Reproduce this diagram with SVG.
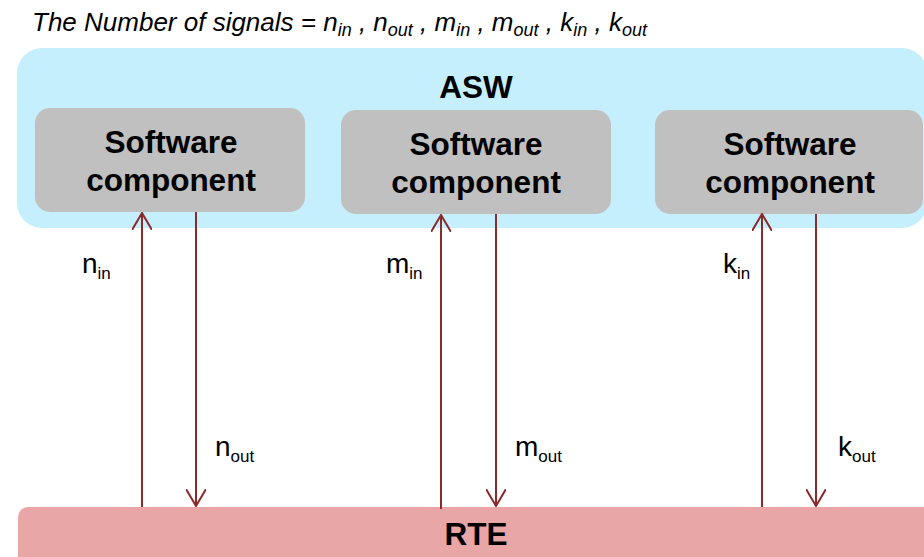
<svg xmlns="http://www.w3.org/2000/svg" width="924" height="557" viewBox="0 0 924 557">
  <style>
    .title { font-family: "Liberation Sans", Arial, sans-serif; font-style: italic; font-size: 26px; fill: #000; }
    .sub { font-size: 18px; }
    .box-label { font-family: "Liberation Sans", Arial, sans-serif; font-weight: bold; font-size: 31.5px; fill: #000; text-anchor: middle; }
    .swc { fill: #C0C0C0; }
    .sig { font-family: "Liberation Sans", Arial, sans-serif; font-size: 28px; fill: #000; }
    .sig-sub { font-size: 17px; }
    .wire { stroke: #8B2A2A; stroke-width: 2; fill: none; }
  </style>
  <defs>
    <!-- open V arrowhead, drawn along +x so orient="auto" follows the line -->
    <marker id="open-arrow" viewBox="0 0 18 20" refX="17" refY="10" markerWidth="18" markerHeight="20" markerUnits="userSpaceOnUse" orient="auto">
      <path d="M0,0 L17,10 L0,20" fill="none" stroke="#8B2A2A" stroke-width="2"/>
    </marker>
  </defs>

  <rect width="924" height="557" fill="#FFFFFF"/>

  <!-- heading -->
  <text class="title" x="32" y="31">The Number of signals = n<tspan class="sub" dy="5">in</tspan><tspan dy="-5"> , n</tspan><tspan class="sub" dy="5">out</tspan><tspan dy="-5"> , m</tspan><tspan class="sub" dy="5">in</tspan><tspan dy="-5"> , m</tspan><tspan class="sub" dy="5">out</tspan><tspan dy="-5"> , k</tspan><tspan class="sub" dy="5">in</tspan><tspan dy="-5"> , k</tspan><tspan class="sub" dy="5">out</tspan></text>

  <!-- application software layer -->
  <g id="asw">
    <rect x="17" y="48" width="910" height="180" rx="25" fill="#C6EFFD"/>
    <text class="box-label" x="476" y="98">ASW</text>
  </g>

  <g id="swc1">
    <rect class="swc" x="35" y="108" width="270" height="104" rx="15"/>
    <text class="box-label" x="171" y="153">Software</text>
    <text class="box-label" x="171" y="191">component</text>
  </g>

  <g id="swc2">
    <rect class="swc" x="341" y="110" width="270" height="104" rx="15"/>
    <text class="box-label" x="476" y="155">Software</text>
    <text class="box-label" x="476" y="193">component</text>
  </g>

  <g id="swc3">
    <rect class="swc" x="655" y="110" width="268" height="104" rx="15"/>
    <text class="box-label" x="790" y="155">Software</text>
    <text class="box-label" x="790" y="193">component</text>
  </g>

  <!-- runtime environment -->
  <g id="rte">
    <rect x="18" y="507" width="920" height="70" rx="10" fill="#E8A6A6"/>
    <text class="box-label" x="476" y="545">RTE</text>
  </g>

  <!-- signal connectors -->
  <g id="connectors">
    <line class="wire" x1="142" y1="507" x2="142" y2="213" marker-end="url(#open-arrow)"/>
    <line class="wire" x1="196" y1="212" x2="196" y2="506" marker-end="url(#open-arrow)"/>
    <line class="wire" x1="441" y1="509" x2="441" y2="215" marker-end="url(#open-arrow)"/>
    <line class="wire" x1="496" y1="214" x2="496" y2="506" marker-end="url(#open-arrow)"/>
    <line class="wire" x1="762" y1="507" x2="762" y2="214" marker-end="url(#open-arrow)"/>
    <line class="wire" x1="816" y1="214" x2="816" y2="506" marker-end="url(#open-arrow)"/>
  </g>

  <!-- signal counts -->
  <g id="labels">
    <text class="sig" x="82" y="273">n<tspan class="sig-sub" dy="6">in</tspan></text>
    <text class="sig" x="215" y="456">n<tspan class="sig-sub" dy="6">out</tspan></text>
    <text class="sig" x="386" y="273">m<tspan class="sig-sub" dy="6">in</tspan></text>
    <text class="sig" x="515" y="456">m<tspan class="sig-sub" dy="6">out</tspan></text>
    <text class="sig" x="723" y="273">k<tspan class="sig-sub" dy="6">in</tspan></text>
    <text class="sig" x="838" y="456">k<tspan class="sig-sub" dy="6">out</tspan></text>
  </g>
</svg>
